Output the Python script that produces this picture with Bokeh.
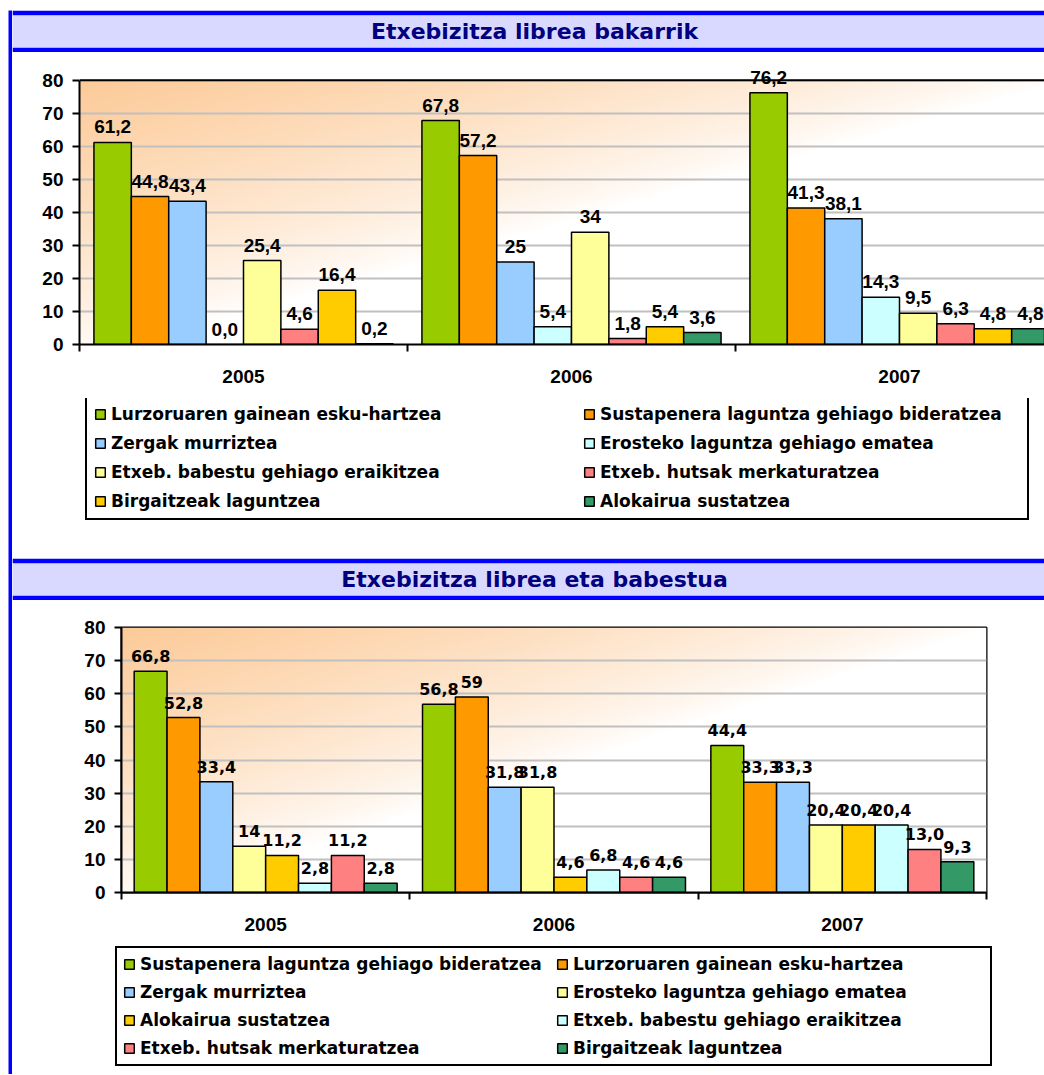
import numpy as np
from bokeh.plotting import figure
from bokeh.models import (ColumnDataSource, Range1d, FixedTicker, Legend, LegendItem,
                          Span, Label, Spacer)
from bokeh.layouts import row, column
from bokeh.transform import dodge
from bokeh.core.properties import value
from bokeh.embed import file_html
from bokeh.resources import INLINE

# ---------------- data ----------------
years = ["2005", "2006", "2007"]

# Chart 1: Etxebizitza librea bakarrik
title_1 = "Etxebizitza librea bakarrik"
names_1 = ["Lurzoruaren gainean esku-hartzea", "Sustapenera laguntza gehiago bideratzea",
           "Zergak murriztea", "Erosteko laguntza gehiago ematea",
           "Etxeb. babestu gehiago eraikitzea", "Etxeb. hutsak merkaturatzea",
           "Birgaitzeak laguntzea", "Alokairua sustatzea"]
lurzoruaren_1 = [61.2, 67.8, 76.2]
sustapenera_1 = [44.8, 57.2, 41.3]
zergak_1 = [43.4, 25.0, 38.1]
erosteko_1 = [0.0, 5.4, 14.3]
babestu_1 = [25.4, 34.0, 9.5]
hutsak_1 = [4.6, 1.8, 6.3]
birgaitzeak_1 = [16.4, 5.4, 4.8]
alokairua_1 = [0.2, 3.6, 4.8]
labels_lurzoruaren_1 = ["61,2", "67,8", "76,2"]
labels_sustapenera_1 = ["44,8", "57,2", "41,3"]
labels_zergak_1 = ["43,4", "25", "38,1"]
labels_erosteko_1 = ["0,0", "5,4", "14,3"]
labels_babestu_1 = ["25,4", "34", "9,5"]
labels_hutsak_1 = ["4,6", "1,8", "6,3"]
labels_birgaitzeak_1 = ["16,4", "5,4", "4,8"]
labels_alokairua_1 = ["0,2", "3,6", "4,8"]

# Chart 2: Etxebizitza librea eta babestua
title_2 = "Etxebizitza librea eta babestua"
names_2 = ["Sustapenera laguntza gehiago bideratzea", "Lurzoruaren gainean esku-hartzea",
           "Zergak murriztea", "Erosteko laguntza gehiago ematea",
           "Alokairua sustatzea", "Etxeb. babestu gehiago eraikitzea",
           "Etxeb. hutsak merkaturatzea", "Birgaitzeak laguntzea"]
sustapenera_2 = [66.8, 56.8, 44.4]
lurzoruaren_2 = [52.8, 59.0, 33.3]
zergak_2 = [33.4, 31.8, 33.3]
erosteko_2 = [14.0, 31.8, 20.4]
alokairua_2 = [11.2, 4.6, 20.4]
babestu_2 = [2.8, 6.8, 20.4]
hutsak_2 = [11.2, 4.6, 13.0]
birgaitzeak_2 = [2.8, 4.6, 9.3]
labels_sustapenera_2 = ["66,8", "56,8", "44,4"]
labels_lurzoruaren_2 = ["52,8", "59", "33,3"]
labels_zergak_2 = ["33,4", "31,8", "33,3"]
labels_erosteko_2 = ["14", "31,8", "20,4"]
labels_alokairua_2 = ["11,2", "4,6", "20,4"]
labels_babestu_2 = ["2,8", "6,8", "20,4"]
labels_hutsak_2 = ["11,2", "4,6", "13,0"]
labels_birgaitzeak_2 = ["2,8", "4,6", "9,3"]

# ---------------- styles ----------------
colors_1 = ["#99CC00", "#FF9900", "#99CCFF", "#CCFFFF", "#FFFF99", "#FF8080", "#FFCC00", "#339966"]
colors_2 = ["#99CC00", "#FF9900", "#99CCFF", "#FFFF99", "#FFCC00", "#CCFFFF", "#FF8080", "#339966"]
BLUE = "#0000FF"
LAVENDER = "#D9D9FF"
NAVY = "#000080"
BAR_W = 0.114
AXIS_FONT = "Liberation Sans"
TEXT_FONT = "DejaVu Sans"
W = 1032
Y_MAX = 80


def base_fig(width, height, **kw):
    p = figure(width=width, height=height, output_backend="svg", toolbar_location=None, **kw)
    p.frame_align = False
    return p


def gradient(nx=300, ny=90):
    orange = np.array([252, 202, 152], dtype=float)
    white = np.array([255, 255, 255], dtype=float)
    xf = (np.arange(nx) + 0.5) / nx
    yf_top = 1.0 - (np.arange(ny) + 0.5) / ny  # row 0 = bottom
    s = np.clip(1.0 * xf[None, :] + 0.95 * yf_top[:, None], 0, 1)
    a = (1 - s) ** 0.75
    rgb = orange[None, None, :] * a[..., None] + white[None, None, :] * (1 - a[..., None])
    img = np.empty((ny, nx), dtype=np.uint32)
    view = img.view(dtype=np.uint8).reshape((ny, nx, 4))
    for c in range(3):
        view[..., c] = np.round(rgb[..., c]).astype(np.uint8)
    view[..., 3] = 255
    return img


def title_bar(text, width, center_x):
    p = base_fig(width, 42, x_range=Range1d(0, width), y_range=Range1d(0, 32),
                 min_border_top=5, min_border_bottom=5, min_border_left=0, min_border_right=0,
                 background_fill_color=LAVENDER, border_fill_color=BLUE,
                 x_axis_location=None, y_axis_location=None)
    p.outline_line_color = None
    p.grid.visible = False
    p.add_layout(Label(x=center_x, y=16, text=text, text_align="center", text_baseline="middle",
                       text_font=TEXT_FONT, text_font_style="bold", text_font_size="22px",
                       text_color=NAVY))
    return p


def chart(values, labels, colors, height, borders, x_end, y_end, outline, label_font, label_size):
    bl, br, bt, bb = borders
    p = base_fig(W, height, x_range=Range1d(0, x_end), y_range=Range1d(0, y_end),
                 min_border_left=bl, min_border_right=br, min_border_top=bt, min_border_bottom=bb,
                 background_fill_color="white", border_fill_color="white")
    p.outline_line_color = "black" if outline else None
    p.outline_line_width = 2
    n = len(years)
    p.image_rgba(image=[gradient()], x=0, y=0, dw=n, dh=Y_MAX, level="image")

    centers = [float(c) for c in np.arange(n) + 0.5]
    k = len(values)
    for i in range(k):
        off = (i - (k - 1) / 2) * BAR_W
        src = ColumnDataSource(dict(x=centers, top=values[i], label=labels[i]))
        p.vbar(x=dodge("x", off), top="top", bottom=0, width=BAR_W, source=src,
               fill_color=colors[i], line_color="black", line_width=1.5)
        p.text(x=dodge("x", off), y="top", text="label", source=src,
               text_align="center", text_baseline="bottom", y_offset=-9,
               text_font=value(label_font), text_font_style="bold", text_font_size=label_size,
               text_color="black")

    if not outline:
        p.add_layout(Span(location=Y_MAX, dimension="width", line_color="black", line_width=2))

    xa = p.xaxis[0]
    xa.ticker = FixedTicker(ticks=centers, minor_ticks=list(range(n + 1)))
    xa.major_label_overrides = {c: y for c, y in zip(centers, years)}
    xa.major_tick_line_color = None
    xa.major_tick_out = 7
    xa.major_tick_in = 0
    xa.minor_tick_out = 7
    xa.minor_tick_in = 0
    xa.minor_tick_line_color = "black"
    xa.minor_tick_line_width = 2
    xa.axis_line_width = 2
    xa.major_label_standoff = 18
    xa.major_label_text_font = AXIS_FONT
    xa.major_label_text_font_style = "bold"
    xa.major_label_text_font_size = "19px"
    xa.major_label_text_color = "black"

    ya = p.yaxis[0]
    ya.ticker = FixedTicker(ticks=list(range(0, Y_MAX + 1, 10)))
    ya.bounds = (0, Y_MAX)
    ya.major_tick_out = 7
    ya.major_tick_in = 0
    ya.major_tick_line_width = 2
    ya.minor_tick_line_color = None
    ya.axis_line_width = 2
    ya.major_label_standoff = 9
    ya.major_label_text_font = AXIS_FONT
    ya.major_label_text_font_style = "bold"
    ya.major_label_text_font_size = "19px"
    ya.major_label_text_color = "black"

    p.xgrid.visible = False
    p.ygrid.grid_line_color = "#C0C0C0"
    p.ygrid.grid_line_width = 2
    return p


def legend_panel(names, values, colors, height, box_left, box_bottom, box_width, col2_left,
                 pad, spacing):
    p = base_fig(W, height, x_range=Range1d(0, W), y_range=Range1d(0, height),
                 min_border_top=0, min_border_bottom=0, min_border_left=0, min_border_right=0,
                 background_fill_color="white", border_fill_color="white",
                 x_axis_location=None, y_axis_location=None)
    p.outline_line_color = None
    p.grid.visible = False
    n = len(years)
    centers = [float(c) for c in np.arange(n) + 0.5]
    # legend keys: same series, hidden in this panel (the bars are drawn in the chart above)
    keys = [p.vbar(x=centers, top=values[i], width=BAR_W, fill_color=c, line_color="black",
                   line_width=1.5, visible=False)
            for i, c in enumerate(colors)]
    common = dict(glyph_width=12, glyph_height=12, label_height=20, label_standoff=5,
                  padding=pad, spacing=spacing, margin=0,
                  label_text_font=TEXT_FONT, label_text_font_style="bold",
                  label_text_font_size="17px", label_text_color="black",
                  orientation="vertical", border_line_color="black", border_line_width=2,
                  background_fill_color="white")
    k = len(names)
    items_a = [LegendItem(label=names[i], renderers=[keys[i]]) for i in range(0, k, 2)]
    items_b = [LegendItem(label=names[i], renderers=[keys[i]]) for i in range(1, k, 2)]
    la = Legend(items=items_a, location=(box_left, box_bottom),
                label_width=box_width - 2 * pad - 12 - 5, border_line_alpha=1,
                background_fill_alpha=1, **common)
    lb = Legend(items=items_b, location=(col2_left, box_bottom + 2), border_line_alpha=0,
                background_fill_alpha=0, **common)
    p.add_layout(la, "center")
    p.add_layout(lb, "center")
    return p


vals_1 = [lurzoruaren_1, sustapenera_1, zergak_1, erosteko_1, babestu_1, hutsak_1, birgaitzeak_1, alokairua_1]
labs_1 = [labels_lurzoruaren_1, labels_sustapenera_1, labels_zergak_1, labels_erosteko_1,
          labels_babestu_1, labels_hutsak_1, labels_birgaitzeak_1, labels_alokairua_1]
vals_2 = [sustapenera_2, lurzoruaren_2, zergak_2, erosteko_2, alokairua_2, babestu_2, hutsak_2, birgaitzeak_2]
labs_2 = [labels_sustapenera_2, labels_lurzoruaren_2, labels_zergak_2, labels_erosteko_2,
          labels_alokairua_2, labels_babestu_2, labels_hutsak_2, labels_birgaitzeak_2]

t1 = title_bar(title_1, W, 522)
# top chart: a little headroom above 80 so the 76,2 label is not clipped
c1 = chart(vals_1, labs_1, colors_1, 346, (67, 0, 8, 54), 965 / 328, 86, False, AXIS_FONT, "19px")
l1 = legend_panel(names_1, vals_1, colors_1, 160, 73, 38, 940, 564, 7, 9)
t2 = title_bar(title_2, W, 522)
c2 = chart(vals_2, labs_2, colors_2, 345, (109, 58, 27, 53), 3, 80, True, TEXT_FONT, "16px")
l2 = legend_panel(names_2, vals_2, colors_2, 129, 103, 8, 873, 538, 6, 8)

bar = base_fig(12, 1074, min_border_top=10, min_border_bottom=0, min_border_left=8,
               min_border_right=0, background_fill_color=BLUE, border_fill_color="white",
               x_axis_location=None, y_axis_location=None)
bar.outline_line_color = None
bar.grid.visible = False

layout = row(bar, column(Spacer(width=W, height=10), t1, c1, l1, t2, c2, l2, spacing=0), spacing=0)

open("out.html", "w").write(file_html(layout, INLINE))
